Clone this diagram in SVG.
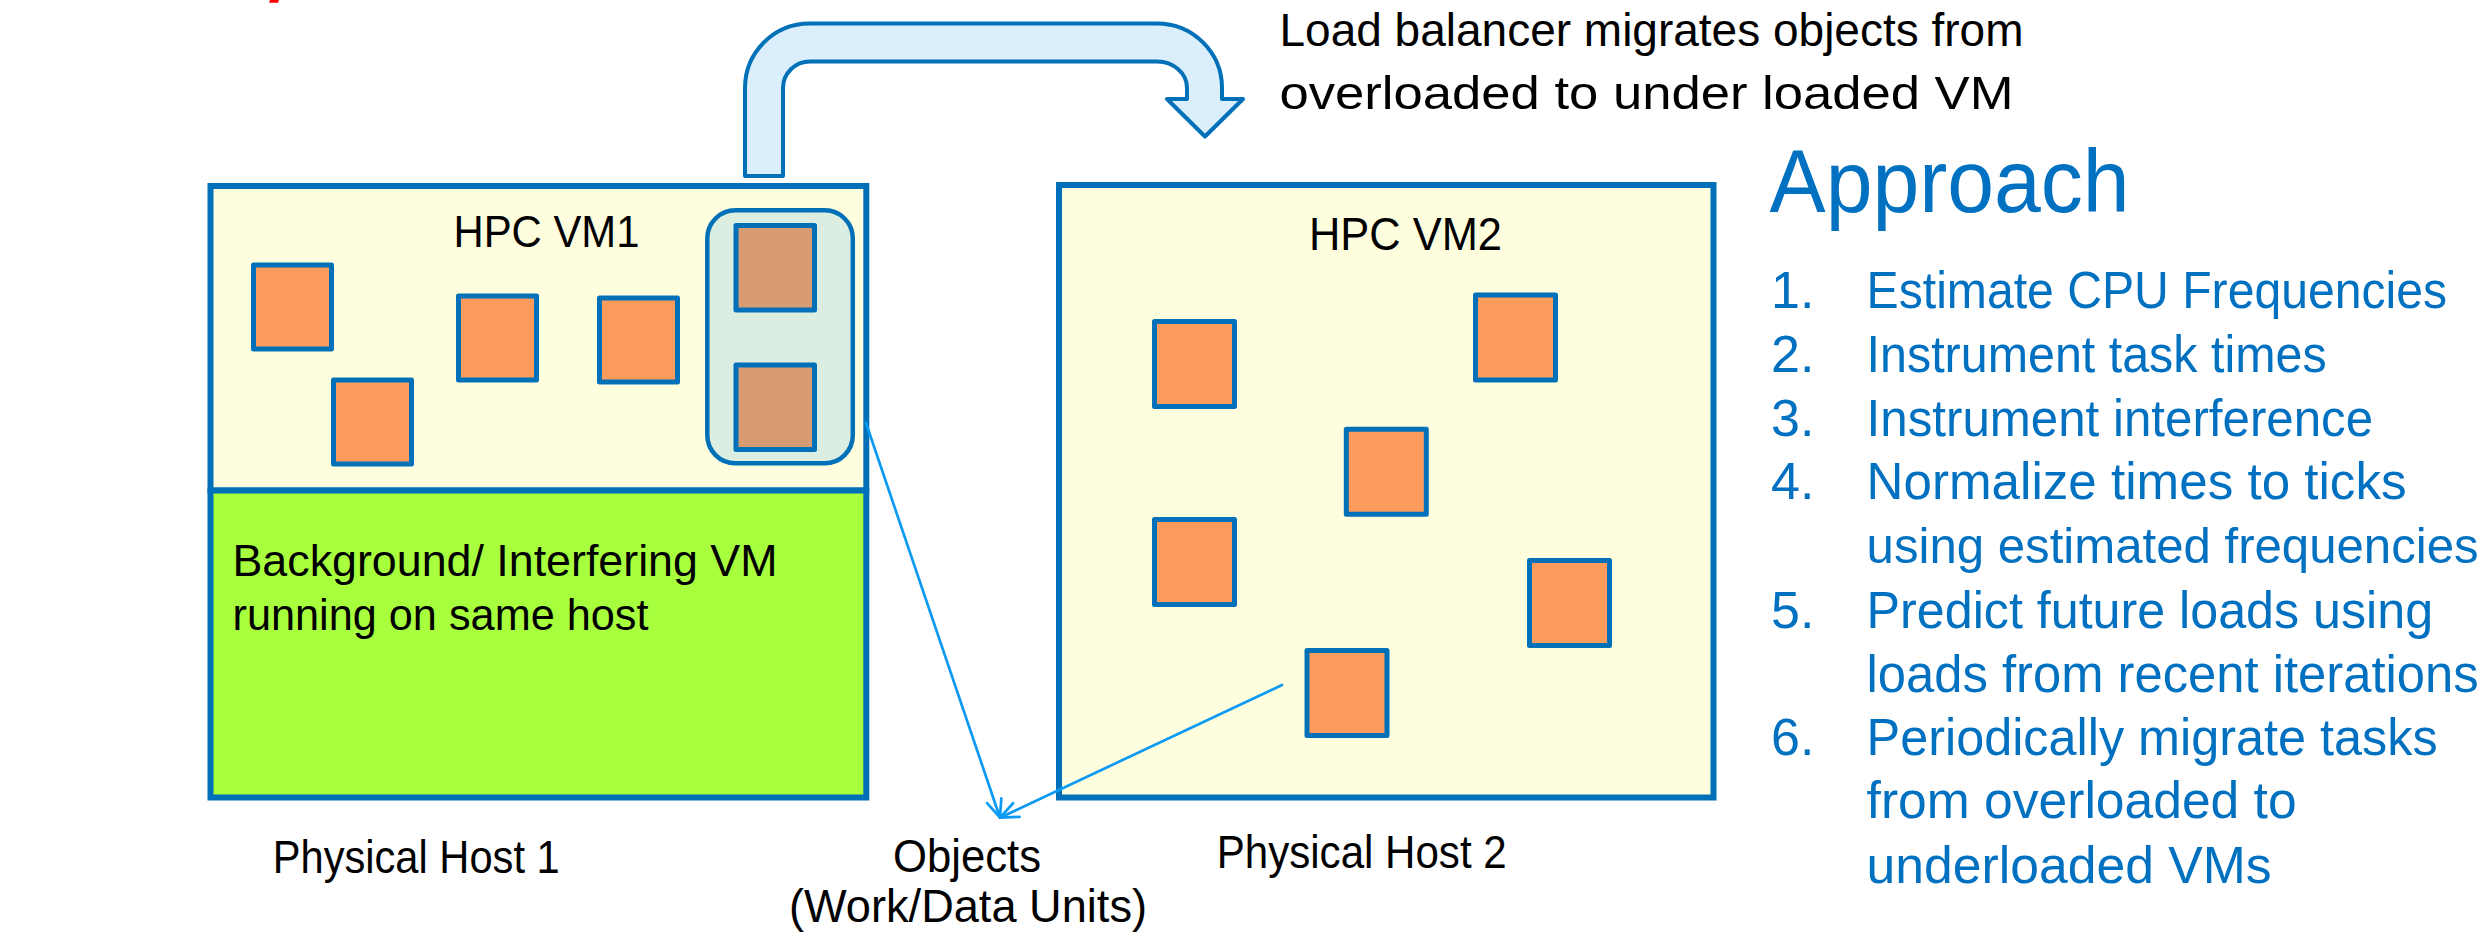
<svg xmlns="http://www.w3.org/2000/svg" width="2489" height="933" viewBox="0 0 2489 933">
  <style>
    .box { stroke: #0070B8; stroke-width: 6; }
    .vm { fill: #FEFEDF; }
    .bg { fill: #A7FF3E; }
    .obj { fill: #FD9B5C; stroke: #0070B8; stroke-width: 5; stroke-linejoin: round; }
    .mig { fill: #D89C73; stroke: #0070B8; stroke-width: 5; stroke-linejoin: round; }
    .grp { fill: #DBEEE1; stroke: #0070B8; stroke-width: 4.5; }
    .t { font-family: "Liberation Sans", Arial, sans-serif; fill: #000; }
    .b { font-family: "Liberation Sans", Arial, sans-serif; fill: #0070C0; }
    .conn { stroke: #0C9AF2; stroke-width: 2.7; fill: none; stroke-linecap: round; }
  </style>
  <defs>
    <marker id="openArrow" markerUnits="userSpaceOnUse" viewBox="0 0 22 18" refX="20" refY="9" markerWidth="22" markerHeight="18" orient="auto" overflow="visible">
      <path d="M2,1.5 L20,9 L2,16.5" fill="none" stroke="#0C9AF2" stroke-width="2.7" stroke-linecap="round" stroke-linejoin="round"/>
    </marker>
  </defs>
  <rect width="2489" height="933" fill="#FFFFFF"/>

  <!-- red fragment at top -->
  <polygon points="270,0 279,0 278,2.7 269,2.7" fill="#FF0000"/>

  <!-- migration U-turn arrow -->
  <g id="migration-arrow">
    <path d="M745,176 L745,88 A64.5,64.5 0 0 1 809.5,23.5 L1157,23.5 A65,64.5 0 0 1 1222,88 L1222,99 L1243,99 L1205,136.5 L1167,99 L1187,99 L1187,88 A30,26.5 0 0 0 1157,61.5 L810,61.5 A27,26.5 0 0 0 783,88 L783,176 Z" fill="#DAEEFB" stroke="#0070B8" stroke-width="4" stroke-linejoin="round"/>
  </g>
  <g id="migration-label">
    <text class="t" x="1279.5" y="46" font-size="47" textLength="744" lengthAdjust="spacingAndGlyphs">Load balancer migrates objects from</text>
    <text class="t" x="1279.5" y="109" font-size="47" textLength="734" lengthAdjust="spacingAndGlyphs">overloaded to under loaded VM</text>
  </g>

  <!-- Physical host 1 -->
  <g id="host1">
    <rect id="hpc-vm1" class="box vm" x="210.5" y="186" width="655.8" height="304.5"/>
    <rect id="bg-vm" class="box bg" x="210.5" y="490.5" width="655.8" height="307"/>
    <text class="t" x="453.5" y="247" font-size="45" textLength="186" lengthAdjust="spacingAndGlyphs">HPC VM1</text>
    <text class="t" x="232.5" y="576" font-size="45" textLength="545" lengthAdjust="spacingAndGlyphs">Background/ Interfering VM</text>
    <text class="t" x="232.5" y="630" font-size="45" textLength="416" lengthAdjust="spacingAndGlyphs">running on same host</text>
    <g id="vm1-objects">
      <rect class="obj" x="253.5" y="265" width="78" height="84"/>
      <rect class="obj" x="333.5" y="380" width="78" height="84"/>
      <rect class="obj" x="458.5" y="296" width="78" height="84"/>
      <rect class="obj" x="599.5" y="298" width="78" height="84"/>
    </g>
    <g id="migrating-group">
      <rect class="grp" x="707.3" y="210.3" width="145.5" height="253" rx="28" ry="28"/>
      <rect class="mig" x="736" y="225.5" width="78.5" height="84.5"/>
      <rect class="mig" x="736" y="365" width="78.5" height="84.5"/>
    </g>
  </g>
  <g id="host1-label">
    <text class="t" x="272.7" y="872.7" font-size="46" textLength="287" lengthAdjust="spacingAndGlyphs">Physical Host 1</text>
  </g>

  <!-- Physical host 2 -->
  <g id="host2">
    <rect id="hpc-vm2" class="box vm" x="1059" y="185" width="654.5" height="612.5"/>
    <text class="t" x="1309" y="249.6" font-size="47" textLength="193" lengthAdjust="spacingAndGlyphs">HPC VM2</text>
    <g id="vm2-objects">
      <rect class="obj" x="1154.5" y="321.5" width="80" height="85"/>
      <rect class="obj" x="1475.5" y="295" width="80" height="85"/>
      <rect class="obj" x="1346.3" y="429.3" width="80" height="85"/>
      <rect class="obj" x="1154.5" y="519.5" width="80" height="85"/>
      <rect class="obj" x="1529.5" y="560.5" width="80" height="85"/>
      <rect class="obj" x="1307" y="650.5" width="80" height="85"/>
    </g>
  </g>
  <g id="host2-label">
    <text class="t" x="1216.7" y="868" font-size="46" textLength="290" lengthAdjust="spacingAndGlyphs">Physical Host 2</text>
  </g>

  <!-- Objects label -->
  <g id="objects-label">
    <text class="t" x="893" y="871.7" font-size="46" textLength="148" lengthAdjust="spacingAndGlyphs">Objects</text>
    <text class="t" x="789" y="922" font-size="46" textLength="358" lengthAdjust="spacingAndGlyphs">(Work/Data Units)</text>
  </g>

  <!-- connectors -->
  <g id="connectors">
    <line class="conn" x1="866" y1="423" x2="1000" y2="817.7" marker-end="url(#openArrow)"/>
    <line class="conn" x1="1282" y1="685" x2="1000" y2="817.7" marker-end="url(#openArrow)"/>
  </g>

  <!-- Approach list -->
  <g id="approach">
    <text class="b" x="1769.6" y="211.7" font-size="89" textLength="360" lengthAdjust="spacingAndGlyphs">Approach</text>
    <g font-size="52">
      <text class="b" x="1771" y="308.3">1.</text>
      <text class="b" x="1866.6" y="308.3" textLength="580.5" lengthAdjust="spacingAndGlyphs">Estimate CPU Frequencies</text>
      <text class="b" x="1771" y="371.7">2.</text>
      <text class="b" x="1866.6" y="371.7" textLength="460" lengthAdjust="spacingAndGlyphs">Instrument task times</text>
      <text class="b" x="1771" y="436">3.</text>
      <text class="b" x="1866.6" y="436" textLength="506.5" lengthAdjust="spacingAndGlyphs">Instrument interference</text>
      <text class="b" x="1771" y="499.3">4.</text>
      <text class="b" x="1866.6" y="499.3" textLength="540" lengthAdjust="spacingAndGlyphs">Normalize times to ticks</text>
      <text class="b" x="1866.6" y="563.3" font-size="49.5" textLength="612" lengthAdjust="spacingAndGlyphs">using estimated frequencies</text>
      <text class="b" x="1771" y="627.7">5.</text>
      <text class="b" x="1866.6" y="627.7" textLength="566.5" lengthAdjust="spacingAndGlyphs">Predict future loads using</text>
      <text class="b" x="1866.6" y="691.7" font-size="51" textLength="612" lengthAdjust="spacingAndGlyphs">loads from recent iterations</text>
      <text class="b" x="1771" y="755">6.</text>
      <text class="b" x="1866.6" y="755" textLength="571" lengthAdjust="spacingAndGlyphs">Periodically migrate tasks</text>
      <text class="b" x="1866.6" y="818.3" textLength="430" lengthAdjust="spacingAndGlyphs">from overloaded to</text>
      <text class="b" x="1866.6" y="883.3" textLength="405" lengthAdjust="spacingAndGlyphs">underloaded VMs</text>
    </g>
  </g>
</svg>
